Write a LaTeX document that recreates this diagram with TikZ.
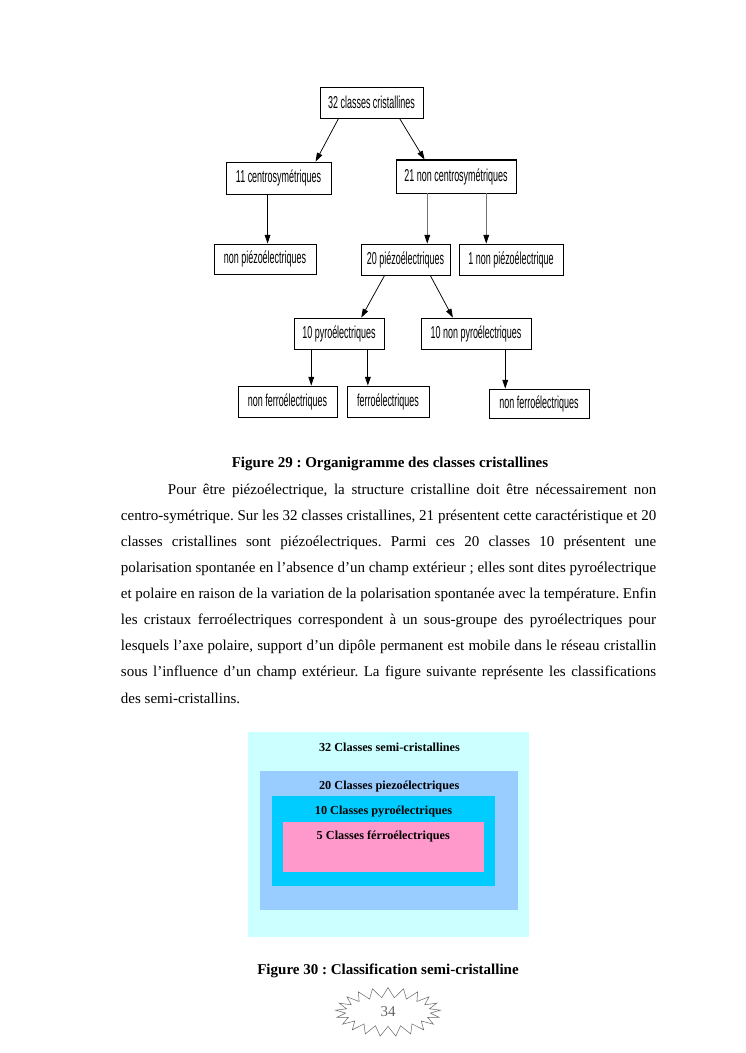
\documentclass[tikz,border=0pt]{standalone}
\usepackage{fontspec}
\setmainfont{Liberation Serif}
\newfontfamily\chartfont[FakeStretch=0.52]{Liberation Sans}
\usetikzlibrary{arrows.meta,calc,shapes.symbols}
\definecolor{setA}{HTML}{CCFFFF}
\definecolor{setB}{HTML}{99CCFF}
\definecolor{setC}{HTML}{00CCFF}
\definecolor{setD}{HTML}{FF99CC}
\frenchspacing
\begin{document}
\begin{tikzpicture}[x=0.8pt,y=-0.8pt,
  chartbox/.style 2 args={draw=black, line width=0.7pt, minimum width=#1*0.8pt, minimum height=#2*0.8pt, inner sep=0pt, font=\chartfont\fontsize{13.8}{15}\selectfont},
  arr/.style={-{Triangle[length=7pt,width=4.6pt,color=black]}, line width=0.6pt},
  garr/.style={arr, draw=black!55},
  figcap/.style={font=\bfseries\fontsize{12}{14}\selectfont, anchor=base, inner sep=0pt},
  setlabel/.style={font=\bfseries\fontsize{9.8}{11}\selectfont, anchor=base, inner sep=0pt}]
\useasboundingbox[fill=white] (0,0) rectangle (745,1053);

% flowchart
\node[chartbox={103}{31}] (a) at (371.5,102.5) {32 classes cristallines};
\node[chartbox={105}{32}] (b) at (278.5,178) {11 centrosymétriques};
\node[chartbox={120}{33}] (c) at (456,176.5) {21 non centrosymétriques};
\node[chartbox={102}{30}] (d) at (265,259) {non piézoélectriques};
\node[chartbox={89}{31}] (e) at (405.5,259.5) {20 piézoélectriques};
\node[chartbox={104}{31}] (f) at (511,259.5) {1 non piézoélectrique};
\node[chartbox={90}{31}] (g) at (339,333.5) {10 pyroélectriques};
\node[chartbox={110}{31}] (h) at (476,333.5) {10 non pyroélectriques};
\node[chartbox={99}{31}] (i) at (287.5,401.5) {non ferroélectriques};
\node[chartbox={82}{31}] (j) at (388,401.5) {ferroélectriques};
\node[chartbox={100}{29}] (k) at (539,403.5) {non ferroélectriques};
\draw[line width=1.5pt] (c.north west) -- (c.north east) -- (c.south east);

\draw[arr] ($(a.south west)+(19,0)$) -- ($(b.north west)+(90,0)$);
\draw[arr] ($(a.south west)+(80,0)$) -- ($(c.north west)+(29,0)$);
\draw[arr] ($(b.south west)+(42,0)$) coordinate (t1) -- (t1 |- d.north);
\draw[garr] ($(c.south west)+(31.7,0)$) coordinate (t2) -- (t2 |- e.north);
\draw[garr] ($(c.south west)+(90.7,0)$) coordinate (t3) -- (t3 |- f.north);
\draw[arr] ($(e.south west)+(24,0)$) -- ($(g.north west)+(67.7,0)$);
\draw[arr] ($(e.south west)+(69.7,0)$) -- ($(h.north west)+(32.3,0)$);
\draw[arr] ($(g.south west)+(17.7,0)$) coordinate (t4) -- (t4 |- i.north);
\draw[arr] ($(g.south west)+(74.3,0)$) coordinate (t5) -- (t5 |- j.north);
\draw[arr] ($(h.south west)+(84.7,0)$) coordinate (t6) -- (t6 |- k.north);

\node[figcap] (f29) at (390,467) {Figure 29 : Organigramme des classes cristallines};

% paragraph
\node[anchor=base west, inner sep=0pt] (para) at (120.7,494) {\parbox[t]{428.2pt}{\fontsize{12}{20.9}\selectfont
\hspace*{37.6pt}\makebox[390.6pt][s]{Pour être piézoélectrique, la structure cristalline doit être nécessairement non}\\
\makebox[428.2pt][s]{centro-symétrique. Sur les 32 classes cristallines, 21 présentent cette caractéristique et 20}\\
\makebox[428.2pt][s]{classes cristallines sont piézoélectriques. Parmi ces 20 classes 10 présentent une}\\
\makebox[428.2pt][s]{polarisation spontanée en l’absence d’un champ extérieur ; elles sont dites pyroélectrique}\\
\makebox[428.2pt][s]{et polaire en raison de la variation de la polarisation spontanée avec la température. Enfin}\\
\makebox[428.2pt][s]{les cristaux ferroélectriques correspondent à un sous-groupe des pyroélectriques pour}\\
\makebox[428.2pt][s]{lesquels l’axe polaire, support d’un dipôle permanent est mobile dans le réseau cristallin}\\
\makebox[428.2pt][s]{sous l’influence d’un champ extérieur. La figure suivante représente les classifications}\\
des semi-cristallins.}};

% nested classification
\fill[setA] (248,732) rectangle (529,937);
\fill[setB] (260,771) rectangle (518,910);
\fill[setC] (272,796) rectangle (495,886);
\fill[setD] (283,822) rectangle (484,872);
\node[setlabel] (s1) at (389.5,751.7) {32 Classes semi-cristallines};
\node[setlabel] (s2) at (389.2,789) {20 Classes piezoélectriques};
\node[setlabel] (s3) at (383.5,814) {10 Classes pyroélectriques};
\node[setlabel] (s4) at (383.3,839) {5 Classes férroélectriques};

\node[figcap] (f30) at (388,974.5) {Figure 30 : Classification semi-cristalline};

\node[starburst, starburst points=21, starburst point height=8pt, random starburst=0,
  draw=black!60, line width=0.4pt, minimum width=84pt, minimum height=39pt, inner sep=0pt,
  font=\fontsize{12}{14}\selectfont, text=black!60] (pg) at (388,1012) {34};
\end{tikzpicture}
\end{document}
